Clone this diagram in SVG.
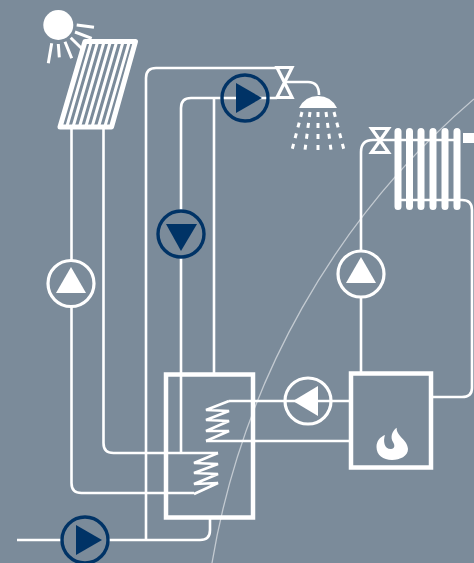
<svg xmlns="http://www.w3.org/2000/svg" width="474" height="563" viewBox="0 0 474 563">
<style>
.p{fill:none;stroke:#fff;stroke-width:2.6}
.b{fill:none;stroke:#fff;stroke-width:4.500;stroke-linejoin:miter}
.c{fill:#7b8b9a;stroke:#fff;stroke-width:3.200}
.n{fill:#7b8b9a;stroke:#003366;stroke-width:3.400}
.o{fill:none}
.tw{fill:#fff}
.tn{fill:#003366}
.ray{stroke:#fff;stroke-width:3;fill:none}
.drop{stroke:#fff;stroke-width:3;fill:none;stroke-dasharray:5 6}
.bar{stroke:#fff;stroke-width:7;stroke-linecap:round;fill:none}
</style>
<rect width="474" height="563" fill="#7b8b9a"/>
<path d="M212 563A780 780 0 0 1 474 99" fill="none" stroke="#c3cad1" stroke-width="1.300"/>
<g id="connectors">
<path class="p" d="M71.500 127V483Q71.500 493 81.500 493H194"/>
<path class="p" d="M103.500 127V443Q103.500 453 113.500 453H218"/>
<path class="p" d="M181 453V108Q181 98 191 98H277"/>
<path class="p" d="M214 98V374"/>
<path class="p" d="M146 540V78Q146 68 156 68H277"/>
<path class="p" d="M17 540H200Q210 540 210 530V518"/>
<path class="p" d="M284 82H308Q319 82 319 95"/>
<path class="p" d="M229 401H351"/>
<path class="p" d="M206 441H351"/>
<path class="p" d="M361 372V152Q361 140 373 140H460"/>
<path class="p" d="M400 200H462Q472 200 472 210V388Q472 397 462 397H431"/>
<path class="p" stroke-linejoin="bevel" d="M218 453L194 463L218 464L194 473L218 474L194 484L218 483L194 494"/>
<path class="p" stroke-linejoin="bevel" d="M229 401L206 410L229 411L206 420L229 421L206 431L229 431L206 441"/>
</g>
<g id="sun">
<circle cx="58.300" cy="25" r="15" class="tw"/>
<path class="ray" d="M76.700 25L94 27.300M75 32L91.700 38.300M70.700 37.700L85 51.700M65 41.700L71.700 58.300M58.300 44L59.300 57.300M51.700 43.300L48.300 63.300"/>
</g>
<g id="solar-panel">
<path fill="#7b8b9a" stroke="#fff" stroke-width="5" stroke-linejoin="round" d="M85 41.500L135.500 41.500L111.500 127L60 127Z"/>
<path stroke="#fff" stroke-width="3" fill="none" d="M91 43L67 126M97.300 43L73.300 126M103.700 43L79.700 126M110 43L86 126M116.300 43L92.300 126M122.700 43L98.700 126M129 43L105 126"/>
</g>
<g id="pump-top"><circle class="n o" cx="245" cy="98" r="23"/><path class="tn" d="M236 83L262 98L236 113Z"/></g>
<g id="pump-middle"><circle class="n" cx="181" cy="234" r="23"/><path class="tn" d="M166 224H197L181 251Z"/></g>
<g id="pump-left"><circle class="c" cx="71" cy="283.500" r="23"/><path class="tw" d="M56 293H86L71 267Z"/></g>
<g id="pump-bottom"><circle class="n" cx="85" cy="540" r="23"/><path class="tn" d="M76 525L102 540L76 555Z"/></g>
<g id="pump-boiler"><circle class="c o" cx="308" cy="401" r="23"/><path class="tw" d="M318 386L293 401L318 416Z"/></g>
<g id="pump-right"><circle class="c" cx="361" cy="274" r="23"/><path class="tw" d="M346 283H376L361 257Z"/></g>
<g id="valve-top"><path class="c o" d="M277 67.500H292L277 97.500H292Z"/></g>
<g id="valve-right"><path class="c o" d="M371.500 128.500H388.500L371.500 152.500H388.500Z"/></g>
<g id="shower">
<path class="tw" d="M299 108Q305 96 318 96Q331 96 337 108Z"/>
<path class="drop" d="M302 112L292 150M310 112L305 150M318 112V150M326 112L331 150M334 112L344 150"/>
</g>
<g id="radiator">
<path class="bar" d="M398 131.500V206.500M409.500 131.500V206.500M421 131.500V206.500M433 131.500V206.500M445 131.500V206.500M457 131.500V206.500"/>
<path class="tw" d="M463 133H474V143H463Z"/>
</g>
<g id="tank"><rect class="b" x="166" y="374.500" width="87" height="143"/></g>
<g id="boiler">
<rect class="b" x="351" y="373.500" width="80" height="94"/>
<path class="tw" d="M396.700 427.700C396 436 408 440 408 449C408 456 400 460 392 460C383 460 376.500 455 376.500 447C376.500 441 380 437 385 435C383 441 384 449 391 449C395 449 395 445 393 442C390 437 392 431 396.700 427.700Z"/>
</g>
</svg>
